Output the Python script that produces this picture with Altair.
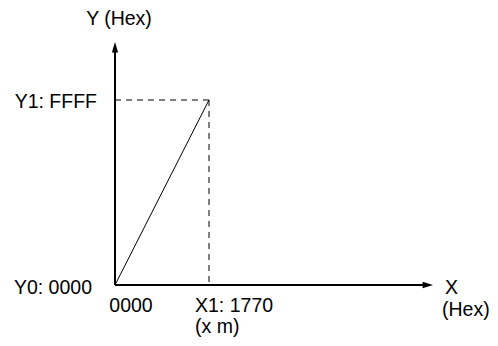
import altair as alt
import pandas as pd

# Values (hex)
x_vals = [0, 0x1770]          # X0 = 0000, X1 = 1770
y_vals = [0, 0xFFFF]          # Y0 = 0000, Y1 = FFFF
x_axis_end = 20300            # extent of the X axis arrow
y_axis_end = 86100            # extent of the Y axis arrow

X1 = x_vals[1]
Y1 = y_vals[1]

xs = alt.Scale(domain=[-6830, 23936], nice=False, zero=False)
ys = alt.Scale(domain=[-18775, 98125], nice=False, zero=False)
FONT = "Liberation Sans"
FS = 19.5

def X(f="x"):
    return alt.X(f"{f}:Q", scale=xs, axis=None)

def Y(f="y"):
    return alt.Y(f"{f}:Q", scale=ys, axis=None)

# Diagonal line
line_df = pd.DataFrame({"x": x_vals, "y": y_vals})
diag = alt.Chart(line_df).mark_line(color="black", strokeWidth=1).encode(x=X(), y=Y())

# Dashed guides
dash_df = pd.DataFrame({"x": [0, X1], "x2": [X1, X1], "y": [Y1, Y1], "y2": [Y1, 0]})
dash = alt.Chart(dash_df).mark_rule(color="black", strokeWidth=1, strokeDash=[6, 5]).encode(
    x=X(), x2="x2:Q", y=Y(), y2="y2:Q")

# Axes
axes_df = pd.DataFrame({"x": [0, 0], "x2": [x_axis_end - 400, 0],
                        "y": [0, 0], "y2": [0, y_axis_end - 2000]})
axes = alt.Chart(axes_df).mark_rule(color="black", strokeWidth=2).encode(
    x=X(), x2="x2:Q", y=Y(), y2="y2:Q")

arrow_x = alt.Chart(pd.DataFrame({"x": [x_axis_end], "y": [0]})).mark_point(
    shape="M0,0L-2,-0.6L-2,0.6Z", size=110, filled=True, color="black", opacity=1,
    strokeWidth=0).encode(x=X(), y=Y())
arrow_y = alt.Chart(pd.DataFrame({"x": [0], "y": [y_axis_end]})).mark_point(
    shape="M0,0L-0.6,2L0.6,2Z", size=110, filled=True, color="black", opacity=1,
    strokeWidth=0).encode(x=X(), y=Y())

def label(text, x, y, align, dx, dy):
    return alt.Chart(pd.DataFrame({"x": [x], "y": [y], "t": [text]})).mark_text(
        font=FONT, fontSize=FS, color="black", align=align, baseline="middle",
        dx=dx, dy=dy).encode(x=X(), y=Y(), text="t:N")

labels = [
    label("Y (Hex)", 0, y_axis_end, "center", 4, -23),
    label("Y1: FFFF", 0, Y1, "right", -18, 2),
    label("Y0: 0000", 0, 0, "right", -23, 3),
    label("0000", 0, 0, "center", 16, 21),
    label("X1: 1770", X1, 0, "left", -14, 21),
    label("(x m)", X1, 0, "left", -14, 42),
    label("X", x_axis_end, 0, "left", 12, 3),
    label("(Hex)", x_axis_end, 0, "left", 9, 25),
]

chart = alt.layer(dash, diag, axes, arrow_x, arrow_y, *labels).properties(
    width=482, height=330, padding=0, autosize=alt.AutoSizeParams(type="none")
).configure_view(stroke=None)

chart.save("out.html", embed_options={"renderer": "svg", "actions": False})
